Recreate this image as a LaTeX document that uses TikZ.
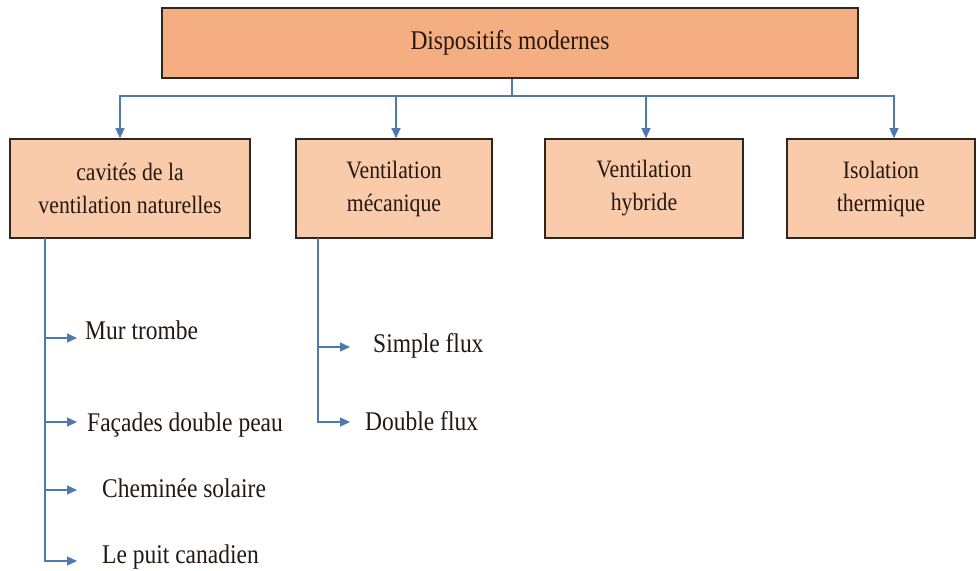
\documentclass[tikz,border=0pt]{standalone}
\usepackage{fontspec}
\setmainfont{Liberation Serif}[FakeStretch=0.87]
\usetikzlibrary{arrows.meta}
\definecolor{topfill}{HTML}{F4AE82}
\definecolor{boxfill}{HTML}{F9CBAA}
\definecolor{edge}{HTML}{2E2620}
\definecolor{linkblue}{HTML}{4F79AE}
\definecolor{txt}{HTML}{24180F}
\tikzset{
  topbox/.style={draw=edge, line width=1.6pt, fill=topfill, minimum width=696pt, minimum height=70pt, inner sep=0pt,
    text=txt, font=\fontsize{27}{33}\selectfont},
  catbox/.style={draw=edge, line width=1.6pt, fill=boxfill, minimum height=99pt, inner sep=0pt, align=center,
    text=txt, font=\fontsize{25}{33}\selectfont},
  leaf/.style={anchor=base west, inner sep=0pt, text=txt, font=\fontsize{27}{33}\selectfont},
  conn/.style={draw=linkblue, line width=1.3pt},
  arr/.style={conn, -{Triangle[length=10pt,width=9pt]}}
}
\begin{document}
\begin{tikzpicture}[x=1pt,y=-1pt]
\useasboundingbox (0,0) rectangle (979,570);
% top box
\node[topbox] (top) at (510,43) {Dispositifs modernes};
% category boxes
\node[catbox, minimum width=240pt] (b1) at (130,188.5) {cavités de la\\ventilation naturelles};
\node[catbox, minimum width=196pt] (b2) at (394,188.5) {Ventilation\\mécanique};
\node[catbox, minimum width=198pt] (b3) at (644,188.5) {Ventilation\\hybride};
\node[catbox, minimum width=188pt] (b4) at (881,188.5) {Isolation\\thermique};
% hub
\coordinate (hub) at (512,96);
\draw[conn] (top.south -| hub) -- (hub);
\draw[arr] (hub) -| ([xshift=-10pt]b1.north);
\draw[arr] (hub) -| ([xshift=2pt]b2.north);
\draw[arr] (hub) -| ([xshift=2pt]b3.north);
\draw[arr] (hub) -| ([xshift=13pt]b4.north);
% left branch
\coordinate (l0) at (45,238);
\coordinate (la1) at (77,338);
\coordinate (la2) at (77,422);
\coordinate (la3) at (77,490);
\coordinate (la4) at (77,561);
\node[leaf] (t1) at (85,339) {Mur trombe};
\node[leaf] (t2) at (87,431) {Façades double peau};
\node[leaf] (t3) at (102,497) {Cheminée solaire};
\node[leaf] (t4) at (102,563) {Le puit canadien};
\draw[arr] (l0) |- (la1);
\draw[arr] (l0) |- (la2);
\draw[arr] (l0) |- (la3);
\draw[arr] (l0) |- (la4);
% middle branch
\coordinate (m0) at (318,238);
\coordinate (ma1) at (350,347);
\coordinate (ma2) at (350,422);
\node[leaf] (s1) at (373,352) {Simple flux};
\node[leaf] (s2) at (365,430) {Double flux};
\draw[arr] (m0) |- (ma1);
\draw[arr] (m0) |- (ma2);
\end{tikzpicture}
\end{document}
